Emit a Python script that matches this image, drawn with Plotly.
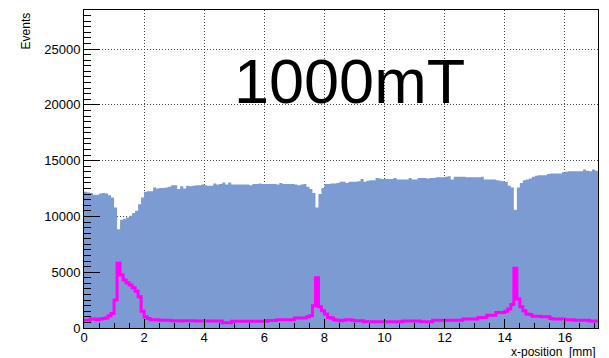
import plotly.graph_objects as go

bin_width = 0.1
n_bins = 171

total_events = [
    12200, 12150, 12100, 11950, 11950, 12050, 12100, 12050, 11900, 11700,
    10800, 8850, 9700, 9800, 9900, 10050, 10300, 10500, 11100, 11700,
    12200, 12250, 12250, 12600, 12500, 12550, 12550, 12600, 12650, 12800,
    12800, 12450, 12700, 12500, 12750, 12700, 12750, 12800, 12800, 12850,
    12800, 12750, 12750, 12950, 12850, 12900, 13050, 12850, 13050, 12850,
    12850, 12850, 12850, 12850, 12850, 12800, 12900, 12900, 12950, 12900,
    12900, 12900, 12900, 12900, 12850, 13000, 12900, 12900, 12900, 12900,
    12850, 12800, 12850, 12900, 12650, 12450, 12100, 10800, 12000, 12550,
    12900, 12900, 12950, 12950, 13000, 13100, 13100, 13000, 13100, 13100,
    13100, 13150, 13350, 13100, 13200, 13250, 13250, 13450, 13400, 13350,
    13350, 13350, 13350, 13450, 13300, 13300, 13300, 13300, 13450, 13300,
    13300, 13450, 13450, 13450, 13400, 13450, 13450, 13500, 13500, 13500,
    13550, 13600, 13300, 13550, 13550, 13550, 13550, 13500, 13500, 13500,
    13500, 13500, 13550, 13300, 13300, 13300, 13300, 13250, 13200, 13150,
    13100, 12750, 12600, 10600, 12600, 13000, 13250, 13300, 13400, 13550,
    13650, 13700, 13700, 13700, 13800, 13850, 13850, 13850, 13850, 13950,
    14000, 14050, 14050, 14050, 14050, 14050, 14200, 14100, 14050, 14200,
    14100,
]

selected_events = [
    700, 700, 800, 800, 750, 800, 850, 900, 1100, 1300,
    2500, 5800, 4750, 4300, 4050, 3850, 3600, 3300, 2800, 1500,
    1000, 850, 750, 750, 750, 700, 700, 700, 700, 650,
    650, 650, 620, 650, 650, 640, 650, 630, 630, 630,
    630, 630, 630, 630, 630, 630, 480, 480, 480, 600,
    600, 600, 600, 600, 600, 600, 600, 600, 600, 600,
    600, 680, 680, 680, 750, 750, 750, 750, 750, 750,
    900, 900, 900, 900, 1000, 1100, 2000, 4500, 1900, 1550,
    1250, 950, 900, 750, 700, 650, 700, 750, 750, 700,
    650, 650, 650, 550, 550, 550, 550, 550, 550, 550,
    550, 550, 550, 550, 550, 550, 620, 620, 620, 620,
    620, 620, 570, 570, 570, 570, 700, 700, 700, 700,
    700, 700, 700, 700, 700, 700, 800, 800, 800, 800,
    800, 950, 950, 950, 1150, 1150, 1150, 1400, 1400, 1400,
    1500, 1700, 2100, 5350, 2600, 1900, 1550, 1250, 1200, 1050,
    1050, 1050, 1000, 1000, 1000, 850, 800, 800, 800, 800,
    750, 750, 750, 700, 700, 700, 700, 700, 630, 630,
    630,
]

x_tick_vals = [0, 2, 4, 6, 8, 10, 12, 14, 16]
x_tick_text = ["0", "2", "4", "6", "8", "10", "12", "14", "16"]
y_tick_vals = [0, 5000, 10000, 15000, 20000, 25000]
y_tick_text = ["0", "5000", "10000", "15000", "20000", "25000"]
label_text = "1000mT"
x_title = "x-position  [mm]"
y_title = "Events"

assert len(total_events) == n_bins and len(selected_events) == n_bins

edges = [round(i * bin_width, 4) for i in range(n_bins + 1)]
step_y_total = total_events + [total_events[-1]]
step_y_sel = selected_events + [selected_events[-1]]

font = "Liberation Sans, Arial, sans-serif"

fig = go.Figure()
fig.add_trace(go.Scatter(
    x=edges, y=step_y_total, mode="lines", line_shape="hv",
    line=dict(color="#7b9bd2", width=0), fill="tozeroy",
    fillcolor="#7b9bd2", hoverinfo="skip", showlegend=False,
))
fig.add_trace(go.Scatter(
    x=edges, y=step_y_sel, mode="lines", line_shape="hv",
    line=dict(color="#ff00ff", width=3), hoverinfo="skip", showlegend=False,
))

# the page body has an 8px default margin, so the figure is sized 8px smaller
fig.update_layout(
    width=601, height=350,
    margin=dict(l=76, r=11, t=2, b=30),
    paper_bgcolor="white", plot_bgcolor="white",
    font=dict(family=font, size=13, color="black"),
    showlegend=False,
)
fig.update_xaxes(
    range=[0, 17.1], tickvals=x_tick_vals, ticktext=x_tick_text,
    ticks="inside", ticklen=9, tickcolor="black", tickwidth=1,
    minor=dict(dtick=0.5, tick0=0, ticks="inside", ticklen=5, tickcolor="black", showgrid=False),
    showline=True, linecolor="black", linewidth=1, mirror=True,
    showgrid=True, gridcolor="#444", gridwidth=1, griddash="1px,2px",
    zeroline=False, ticklabelstandoff=-3,
    tickfont=dict(family=font, size=13, color="black"),
)
fig.update_yaxes(
    range=[0, 28500], tickvals=y_tick_vals, ticktext=y_tick_text,
    ticks="inside", ticklen=16, tickcolor="black", tickwidth=1,
    minor=dict(dtick=500, tick0=0, ticks="inside", ticklen=7, tickcolor="black", showgrid=False),
    showline=True, linecolor="black", linewidth=1, mirror=True,
    showgrid=True, gridcolor="#444", gridwidth=1, griddash="1px,2px",
    zeroline=False, ticklabelstandoff=0,
    tickfont=dict(family=font, size=13, color="black"),
)

fig.add_annotation(
    text=label_text, xref="x", yref="y", x=8.83, y=22100,
    xanchor="center", yanchor="middle", showarrow=False,
    font=dict(family=font, size=63, color="black"),
)
fig.add_annotation(
    text=y_title, xref="paper", yref="paper", x=-0.113, y=1.0,
    xanchor="center", yanchor="top", textangle=-90, showarrow=False,
    font=dict(family=font, size=12, color="black"),
)
fig.add_annotation(
    text=x_title, xref="paper", yref="paper", x=1.0, y=-0.076,
    xanchor="right", yanchor="middle", showarrow=False,
    font=dict(family=font, size=12, color="black"),
)

fig.write_html("out.html")
